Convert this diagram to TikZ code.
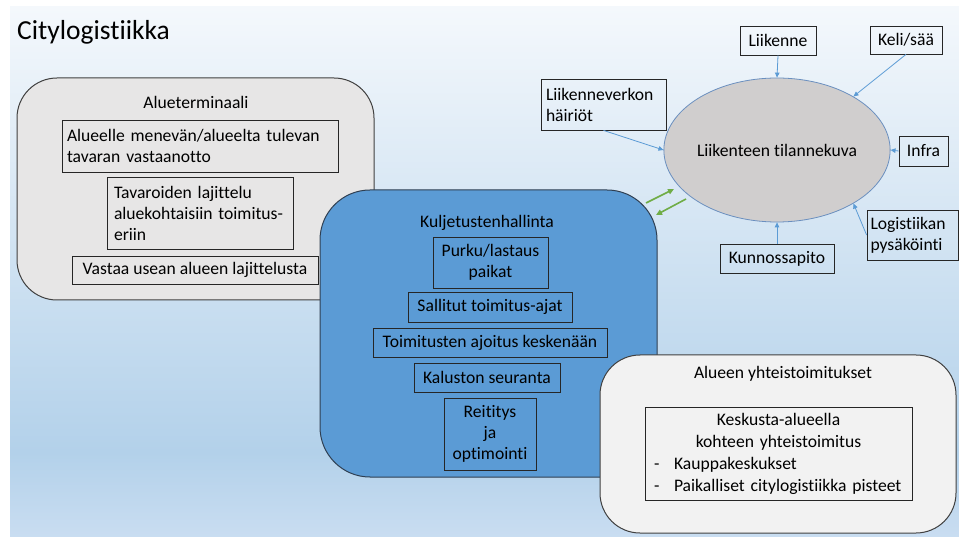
\documentclass[tikz,border=0pt]{standalone}
\usepackage{fontspec}
\setmainfont{Carlito}[Ligatures=NoCommon]
\usetikzlibrary{arrows.meta,shapes.geometric}

\definecolor{bgtop}{HTML}{F4F8FC}
\definecolor{bgmid}{HTML}{B3D1EA}
\definecolor{bgbot}{HTML}{C9DDF1}
\definecolor{panelgrey}{HTML}{E7E6E6}
\definecolor{panellight}{HTML}{F2F2F2}
\definecolor{panelblue}{HTML}{5B9BD5}
\definecolor{blueedge}{HTML}{2F3F52}
\definecolor{ellfill}{HTML}{D0CECE}
\definecolor{elledge}{HTML}{6A8FBF}
\definecolor{linkblue}{HTML}{5B9BD5}
\definecolor{linkgreen}{HTML}{70AD47}
\definecolor{edgegrey}{HTML}{404040}

% slide background: pale at the top, light blue towards the bottom
\pgfdeclareverticalshading{slidebg}{100bp}{color(0bp)=(bgbot); color(25bp)=(bgbot); color(33bp)=(bgmid); color(75bp)=(bgtop); color(100bp)=(bgtop)}

\tikzset{
  panel/.style={draw=edgegrey, line width=1pt, rounded corners=40pt, inner sep=0pt},
  itembox/.style={draw=black!85, line width=0.8pt, inner sep=0pt, align=center},
  leftbox/.style={itembox, align=left},
  heading/.style={inner sep=0pt},
  feed/.style={draw=linkblue, line width=0.8pt, -{Triangle[length=5pt,width=4.5pt]}},
  swap/.style={draw=linkgreen, line width=1.6pt, -{Triangle[length=6pt,width=5.5pt]}},
}

\begin{document}
\begin{tikzpicture}[x=1pt,y=-1pt,font=\fontsize{17.6}{21}\selectfont]
\useasboundingbox (0,0) rectangle (959,537);
\fill[white] (0,0) rectangle (959,537);
\shade[shading=slidebg] (10,7) rectangle (959,537);

% title
\node[heading, anchor=west, font=\fontsize{27.5}{32}\selectfont] (title) at (17,32) {Citylogistiikka};

% area terminal panel
\node[panel, fill=panelgrey, minimum width=357, minimum height=222] (term) at (195.5,189) {};
\node[heading] (termtitle) at (196,102) {Alueterminaali};
\node[leftbox, minimum width=276, minimum height=52, text width=266] (t1) at (200,146)
  {Alueelle menevän/alueelta tulevan\\tavaran vastaanotto};
\node[leftbox, minimum width=186, minimum height=72, text width=172] (t2) at (200,213)
  {Tavaroiden lajittelu\\aluekohtaisiin toimitus-\\eriin};
\node[itembox, minimum width=246, minimum height=28] (t3) at (195,270) {Vastaa usean alueen lajittelusta};

% transport management panel
\node[panel, draw=blueedge, fill=panelblue, rounded corners=50pt, minimum width=337, minimum height=287] (kul) at (488.5,333.5) {};
\node[heading] (kultitle) at (487,223) {Kuljetustenhallinta};
\node[itembox, minimum width=115, minimum height=51] (k1) at (490.5,262.5) {Purku/lastaus\\paikat};
\node[itembox, minimum width=164, minimum height=30] (k2) at (490,307) {Sallitut toimitus-ajat};
\node[itembox, minimum width=234, minimum height=29] (k3) at (490,342.5) {Toimitusten ajoitus keskenään};
\node[itembox, minimum width=146, minimum height=29] (k4) at (487,377.5) {Kaluston seuranta};
\node[itembox, minimum width=92, minimum height=72] (k5) at (490,434) {Reititys\\ja\\optimointi};

% joint deliveries panel
\node[panel, fill=panellight, minimum width=356, minimum height=178] (alu) at (778,444) {};
\node[heading] (alutitle) at (783,374) {Alueen yhteistoimitukset};
\node[itembox, minimum width=267, minimum height=93, text width=249, font=\fontsize{17.6}{22}\selectfont] (a1) at (778.5,453.5)
  {Keskusta-alueella\\kohteen yhteistoimitus\\
   \makebox[249pt][l]{\makebox[20pt][l]{-}Kauppakeskukset}\\
   \makebox[249pt][l]{\makebox[20pt][l]{-}Paikalliset citylogistiikka pisteet}};

% traffic situation picture and its inputs
\node[ellipse, draw=elledge, line width=0.8pt, fill=ellfill, minimum width=204, minimum height=144, inner sep=0pt] (ell) at (777,150) {Liikenteen tilannekuva};
\node[itembox, minimum width=76, minimum height=29] (liik) at (778,40.5) {Liikenne};
\node[itembox, minimum width=72, minimum height=28] (keli) at (906,40) {Keli/sää};
\node[leftbox, minimum width=125, minimum height=51, text width=115] (verk) at (603.5,104.5) {Liikenneverkon\\häiriöt};
\node[itembox, minimum width=49, minimum height=30] (infra) at (923.5,151) {Infra};
\node[leftbox, minimum width=91, minimum height=50, text width=84] (logi) at (912.5,235) {Logistiikan\\pysäköinti};
\node[itembox, minimum width=114, minimum height=29] (kunn) at (777,258.5) {Kunnossapito};

\draw[feed] (liik.south) -- (ell.north);
\draw[feed] (keli.south) -- (ell.35);
\draw[feed] (verk.south) -- (ell.west);
\draw[feed] (infra.west) -- (ell.east);
\draw[feed] (logi.west) -- (ell.-35);
\draw[feed] (kunn.north) -- (ell.south);

% exchange between transport management and the traffic picture
\coordinate (g1s) at (646,203);
\coordinate (g1e) at (674,189);
\coordinate (g2s) at (686,199);
\coordinate (g2e) at (656,215);
\draw[swap] (g1s) -- (g1e);
\draw[swap] (g2s) -- (g2e);
\end{tikzpicture}
\end{document}
